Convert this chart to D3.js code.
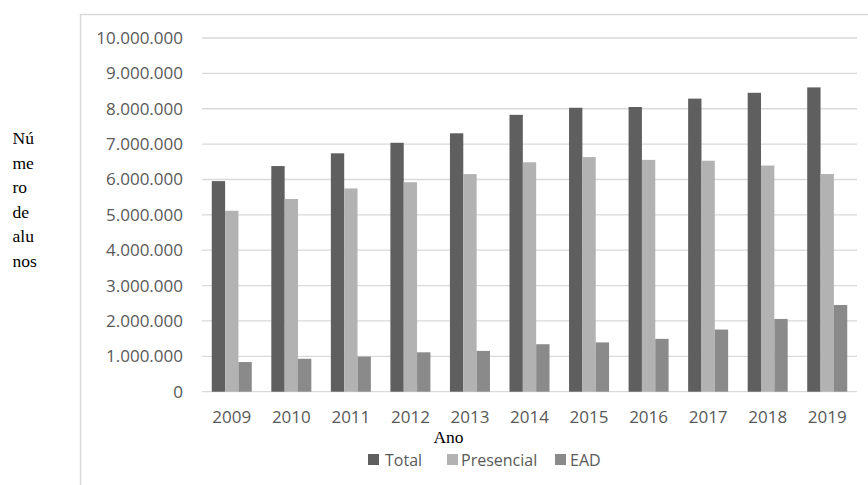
<!DOCTYPE html>
<html>
<head>
<meta charset="utf-8">
<script src="https://cdn.jsdelivr.net/npm/d3@7"></script>
<style>
  html, body { margin: 0; padding: 0; background: #fff; }
  svg { display: block; }
</style>
</head>
<body>
<svg id="chart" width="868" height="485"></svg>
<script>
// Matrículas no ensino superior por modalidade, 2009–2019
const years = ["2009", "2010", "2011", "2012", "2013", "2014", "2015", "2016", "2017", "2018", "2019"];
const total = [5954021, 6379299, 6739689, 7037688, 7305977, 7828013, 8027297, 8048701, 8286663, 8450755, 8603824];
const presencial = [5115896, 5449120, 5746762, 5923838, 6152405, 6486171, 6633545, 6554283, 6529681, 6394244, 6153560];
const ead = [838125, 930179, 992927, 1113850, 1153572, 1341842, 1393752, 1494418, 1756982, 2056511, 2450264];
const seriesNames = ["Total", "Presencial", "EAD"];
const yTicks = [0, 1000000, 2000000, 3000000, 4000000, 5000000, 6000000, 7000000, 8000000, 9000000, 10000000];
const yTitleLines = ["Nú", "me", "ro", "de", "alu", "nos"];

const colors = { "Total": "#5f5f5f", "Presencial": "#b2b2b2", "EAD": "#8a8a8a" };
const seriesValues = { "Total": total, "Presencial": presencial, "EAD": ead };

const svg = d3.select("#chart");
const sansFont = "'Open Sans', sans-serif";
const serifFont = "'Liberation Serif', 'Times New Roman', serif";

// chart frame (left and top edges)
svg.append("line").attr("x1", 80.5).attr("x2", 80.5).attr("y1", 14).attr("y2", 485)
  .attr("stroke", "#d9d9d9").attr("stroke-width", 1.5);
svg.append("line").attr("x1", 80).attr("x2", 868).attr("y1", 14.5).attr("y2", 14.5)
  .attr("stroke", "#d9d9d9").attr("stroke-width", 1.5);

const plot = { left: 202, right: 857, top: 38, bottom: 391.7 };

const x0 = d3.scaleBand().domain(years).range([plot.left, plot.right])
  .paddingInner(0.328).paddingOuter(0.164);
const x1 = d3.scaleBand().domain(seriesNames).range([0, x0.bandwidth()]).padding(0);
const y = d3.scaleLinear().domain([0, 10000000]).range([plot.bottom, plot.top]);

const fmt = v => d3.format(",")(v).replace(/,/g, ".");

// horizontal gridlines
svg.append("g").selectAll("line").data(yTicks).join("line")
  .attr("x1", plot.left).attr("x2", plot.right)
  .attr("y1", d => y(d)).attr("y2", d => y(d))
  .attr("stroke", "#d9d9d9").attr("stroke-width", 1.3);

// y axis labels
const yAxis = d3.axisLeft(y).tickValues(yTicks).tickFormat(fmt).tickSize(0).tickPadding(0);
svg.append("g").attr("transform", "translate(183,0)").call(yAxis)
  .call(g => g.select(".domain").remove())
  .call(g => g.selectAll("text").attr("font-family", sansFont).attr("font-size", 17)
    .attr("fill", "#595959"));

// bars
const groups = svg.append("g").selectAll("g").data(years).join("g")
  .attr("transform", d => `translate(${x0(d)},0)`);
groups.selectAll("rect")
  .data((yr, i) => seriesNames.map(s => ({ s, v: seriesValues[s][i] })))
  .join("rect")
  .attr("x", d => x1(d.s))
  .attr("width", x1.bandwidth())
  .attr("y", d => y(d.v))
  .attr("height", d => y(0) - y(d.v))
  .attr("fill", d => colors[d.s]);

// x axis labels
const xAxis = d3.axisBottom(x0).tickSize(0).tickPadding(0);
svg.append("g").attr("transform", `translate(0,${plot.bottom})`).call(xAxis)
  .call(g => g.select(".domain").remove())
  .call(g => g.selectAll("text").attr("font-family", sansFont).attr("font-size", 17)
    .attr("fill", "#595959").attr("dy", null).attr("y", 31));

// axis titles
svg.append("text").attr("x", 448.5).attr("y", 443).attr("text-anchor", "middle")
  .attr("font-family", serifFont).attr("font-size", 17.5).attr("fill", "#000").text("Ano");

svg.append("g").selectAll("text").data(yTitleLines).join("text")
  .attr("x", 12.5).attr("y", (d, i) => 144 + i * 24.6)
  .attr("font-family", serifFont).attr("font-size", 17.5).attr("fill", "#000")
  .text(d => d);

// legend
const legendItems = [
  { name: "Total", sx: 368, tx: 385 },
  { name: "Presencial", sx: 447, tx: 461 },
  { name: "EAD", sx: 555, tx: 570 }
];
const legend = svg.append("g");
legend.selectAll("rect").data(legendItems).join("rect")
  .attr("x", d => d.sx).attr("y", 454).attr("width", 11).attr("height", 11)
  .attr("fill", d => colors[d.name]);
legend.selectAll("text").data(legendItems).join("text")
  .attr("x", d => d.tx).attr("y", 466)
  .attr("font-family", sansFont).attr("font-size", 16).attr("fill", "#595959")
  .text(d => d.name);
</script>
</body>
</html>
